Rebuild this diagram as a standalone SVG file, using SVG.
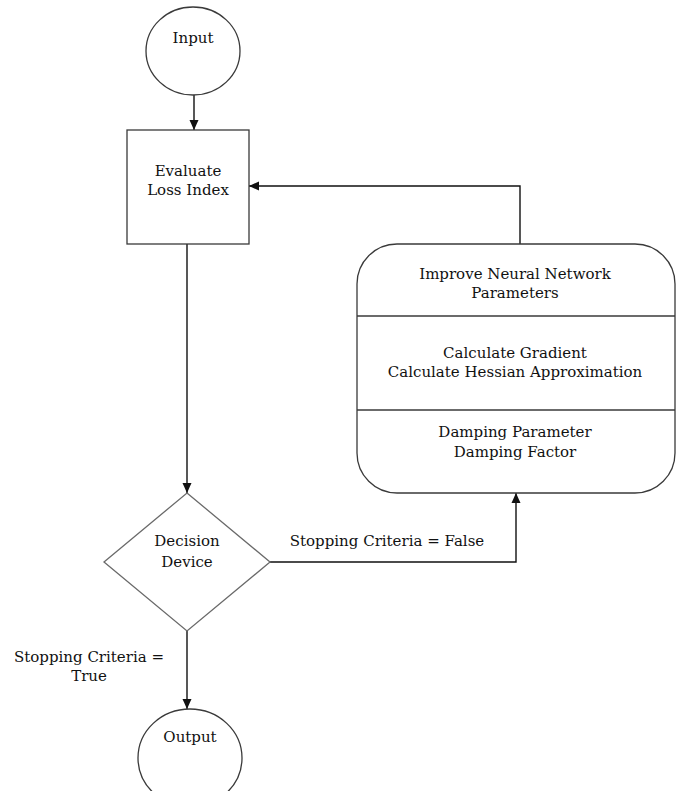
<svg xmlns="http://www.w3.org/2000/svg" width="681" height="791" viewBox="0 0 681 791">
<style>
.shape{fill:#ffffff;stroke:#3a3a3a;stroke-width:1.3}
.dia{fill:#ffffff;stroke:#6a6a6a;stroke-width:1.3}
.conn{fill:none;stroke:#111111;stroke-width:1.4}
text{font-family:"DejaVu Serif","Liberation Serif",serif;font-size:15px;fill:#111111;text-anchor:middle}
</style>
<defs>
<marker id="arr" viewBox="0 0 10 10" refX="10" refY="5" markerWidth="10" markerHeight="10" markerUnits="userSpaceOnUse" orient="auto">
<path d="M0,0.5 L10,5 L0,9.5 Z" fill="#111111"/>
</marker>
</defs>
<rect width="681" height="791" fill="#ffffff"/>
<g id="connectors">
<path class="conn" d="M194,95 L194,130" marker-end="url(#arr)"/>
<path class="conn" d="M187,244 L187,493" marker-end="url(#arr)"/>
<path class="conn" d="M520,244 L520,186 L249,186" marker-end="url(#arr)"/>
<path class="conn" d="M270,562 L516,562 L516,493" marker-end="url(#arr)"/>
<path class="conn" d="M187,631 L187,709" marker-end="url(#arr)"/>
<text x="387" y="546">Stopping Criteria = False</text>
<text x="89" y="662">Stopping Criteria =</text>
<text x="89" y="681">True</text>
</g>
<g id="input">
<ellipse class="shape" cx="193" cy="51" rx="47" ry="44"/>
<text x="193" y="43">Input</text>
</g>
<g id="evaluate">
<rect class="shape" x="127" y="130" width="122" height="114"/>
<text x="188" y="176">Evaluate</text>
<text x="188" y="195">Loss Index</text>
</g>
<g id="improve">
<rect class="shape" x="357" y="244" width="318" height="249" rx="40" ry="40"/>
<line class="shape" x1="357" y1="316" x2="675" y2="316"/>
<line class="shape" x1="357" y1="410" x2="675" y2="410"/>
<text x="515" y="279">Improve Neural Network</text>
<text x="515" y="298">Parameters</text>
<text x="515" y="358">Calculate Gradient</text>
<text x="515" y="377">Calculate Hessian Approximation</text>
<text x="515" y="437">Damping Parameter</text>
<text x="515" y="457">Damping Factor</text>
</g>
<g id="decision">
<polygon class="dia" points="187,493 270,562 187,631 104,562"/>
<text x="187" y="546">Decision</text>
<text x="187" y="567">Device</text>
</g>
<g id="output">
<ellipse class="shape" cx="190" cy="758" rx="52" ry="49"/>
<text x="190" y="742">Output</text>
</g>
</svg>
